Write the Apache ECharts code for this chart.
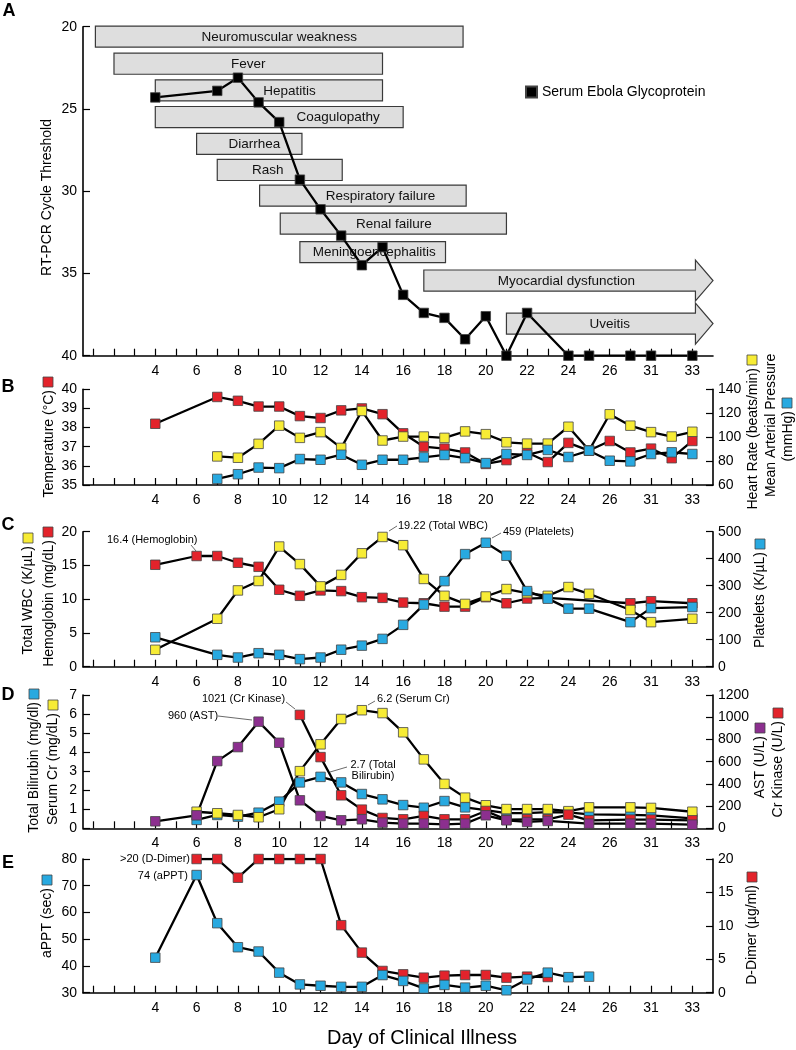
<!DOCTYPE html>
<html><head><meta charset="utf-8">
<script src="https://cdn.jsdelivr.net/npm/echarts@6/dist/echarts.min.js"></script>
<style>html,body{margin:0;padding:0;background:#fff}#c{width:796px;height:1050px}</style>
</head><body><div id="c"></div>
<script>
// ---------- shared x axis (broken day axis) ----------
const axisDays = [1,2,3,4,5,6,7,8,9,10,11,12,13,14,15,16,17,18,19,20,21,22,23,24,25,26,29,31,32,33];
const tickLabelDays = [4,6,8,10,12,14,16,18,20,22,24,26,31,33];

// ---------- Panel A ----------
const ctDays   = [4,7,8,9,10,11,12,13,14,15,16,17,18,19,20,21,22,24,25,29,31,33];
const ctValues = [24.3,23.9,23.1,24.6,25.8,29.3,31.1,32.7,34.5,33.4,36.3,37.4,37.7,39.0,37.6,40,37.4,40,40,40,40,40];
const symptomNames = ['Neuromuscular weakness','Fever','Hepatitis','Coagulopathy','Diarrhea','Rash','Respiratory failure','Renal failure','Meningoencephalitis','Myocardial dysfunction','Uveitis'];
const symptomStart = [1.1, 2, 4, 4, 6, 7, 9.05, 10.05, 11, 17, 21];
const symptomEnd   = [18.9, 15, 15, 16, 11.1, 13.05, 19.05, 21, 18.05, 31, 31];
const symptomOngoing = [0,0,0,0,0,0,0,0,0,1,1];
const symptomRow   = [20.6, 22.25, 23.87, 25.49, 27.12, 28.71, 30.27, 31.97, 33.7, 35.43, 38.05];
const symptomLabelAt = [10, 8.5, 10.5, 12.85, 8.8, 9.45, 14.9, 15.55, 14.6, 23.9, 26];

// ---------- Panel B ----------
const tempDays = [4,7,8,9,10,11,12,13,14,15,16,17,18,19,20,21,22,23,24,25,26,29,31,32,33];
const temperature = [38.2,39.6,39.4,39.1,39.1,38.6,38.5,38.9,39.0,38.7,37.7,37.0,36.9,36.7,36.1,36.3,36.7,36.2,37.2,36.8,37.3,36.7,36.9,36.4,37.3];
const vitalDays = [7,8,9,10,11,12,13,14,15,16,17,18,19,20,21,22,23,24,25,26,29,31,32,33];
const heartRate = [83.9,82.8,94.4,109.6,99.4,104.2,91.0,121.9,97.2,100.5,100.5,99.4,104.8,102.5,95.7,94.6,94.6,108.7,89,119.1,109.6,104.2,100.5,104.5];
const meanArterial = [65.1,69.0,74.6,74.1,81.7,81.1,85.3,76.9,81.1,81.1,83.1,85.1,82.5,78.3,85.9,85.1,89.3,83.4,88.7,80.3,79.7,85.9,87.3,85.9];

// ---------- Panel C ----------
const hgbDays = [4,6,7,8,9,10,11,12,13,14,15,16,17,18,19,20,21,22,23,29,31,33];
const hemoglobin = [15.1,16.4,16.4,15.4,14.8,11.4,10.5,11.3,11.2,10.3,10.2,9.5,9.4,8.9,8.9,10.3,9.4,10.1,10.2,9.4,9.7,9.4];
const cbcDays = [4,7,8,9,10,11,12,13,14,15,16,17,18,19,20,21,22,23,24,25,29,31,33];
const totalWBC = [2.5,7.1,11.3,12.7,17.8,15.2,11.9,13.6,16.8,19.22,18.0,13.0,10.5,9.3,10.4,11.5,10.9,10.5,11.8,10.8,8.4,6.6,7.1];
const platelets = [109,44,34,50,44,28,34,63,78,103,155,230,317,417,459,411,280,252,215,215,165,217,221];

// ---------- Panel D ----------
const astDays = [4,6,7,8,9,10,11,12,13,14,15,16,17,18,19,20,21,22,23,25,29,31,33];
const ast = [63,117,605,731,960,770,252,111,72,81,51,42,42,36,42,117,72,57,66,42,42,42,33];
const ckDays = [11,12,13,14,15,16,17,18,19,20,21,22,23,24,25,29,31,33];
const crKinase = [1021,641,297,168,93,81,111,81,81,156,78,81,81,123,72,78,78,72];
const chemDays = [6,7,8,9,10,11,12,13,14,15,16,17,18,19,20,21,22,23,24,25,29,31,33];
const serumCr = [0.87,0.79,0.70,0.58,1.0,3.0,4.41,5.74,6.2,6.05,5.04,3.62,2.33,1.61,1.21,1.01,1.01,1.01,0.9,1.1,1.1,1.07,0.87];
const bilirubin = [0.44,0.70,0.61,0.82,1.40,2.41,2.7,2.41,1.8,1.52,1.22,1.08,1.43,1.10,0.96,0.8,0.8,0.85,0.84,0.73,0.70,0.68,0.52];

// ---------- Panel E ----------
const dDimerDays = [6,7,8,9,10,11,12,13,14,15,16,17,18,19,20,21,22,23];
const dDimer = [20,20,17.2,20,20,20,20,10.1,6.0,3.25,2.75,2.25,2.55,2.65,2.65,2.25,2.4,2.35];
const apttDays = [4,6,7,8,9,10,11,12,13,14,15,16,17,18,19,20,21,22,23,24,25];
const aptt = [43.1,74,56,47,45.4,37.5,33.1,32.6,32.2,32.2,36.6,34.4,31.6,32.9,31.9,32.6,30.9,35.0,37.5,35.8,36.0];

// ---------- styling ----------
const FONT = "'Liberation Sans', Arial, Helvetica, sans-serif";
const RED = '#e3232b', YELLOW = '#f7ec35', BLUE = '#28a9e0', PURPLE = '#8c2f8f', BLACK = '#000';
const BAR_H = 1.28;

const pos = d => axisDays.indexOf(d) + 1;
const posLabel = {};
tickLabelDays.forEach(d => { posLabel[pos(d)] = String(d); });
const pts = (days, vals) => days.map((d, i) => [pos(d), vals[i]]);

const grids = [
  {left: 83, width: 630, top: 26.7, height: 329},
  {left: 83, width: 630, top: 389.3, height: 95.7},
  {left: 83, width: 630, top: 531.7, height: 135},
  {left: 83, width: 630, top: 695, height: 133.3},
  {left: 83, width: 630, top: 859, height: 133.7}
];

const xAxes = grids.map((g, gi) => ({
  type: 'value', gridIndex: gi, min: 0.5, max: 31,
  axisLine: {show: true, onZero: false, lineStyle: {color: '#000', width: 1.6}},
  axisTick: {show: true, inside: true, length: 7, customValues: axisDays.map((d, i) => i + 1), lineStyle: {color: '#000', width: 1.2}},
  axisLabel: {show: true, customValues: tickLabelDays.map(pos), formatter: v => posLabel[Math.round(v)] || '', fontSize: 14, color: '#000', margin: 8, fontFamily: FONT},
  splitLine: {show: false}
}));

function yAx(gi, position, min, max, interval, inverse) {
  return {
    type: 'value', gridIndex: gi, position, min, max, interval, inverse: !!inverse,
    axisLine: {show: true, onZero: false, lineStyle: {color: '#000', width: 1.6}},
    axisTick: {show: true, inside: true, length: 7, lineStyle: {color: '#000', width: 1.2}},
    axisLabel: {fontSize: 14, color: '#000', margin: position === 'left' ? 6 : 5, fontFamily: FONT, formatter: v => String(v)},
    splitLine: {show: false}
  };
}
const yAxes = [
  yAx(0, 'left', 20, 40, 5, true),
  yAx(1, 'left', 35, 40, 1), yAx(1, 'right', 60, 140, 20),
  yAx(2, 'left', 0, 20, 5), yAx(2, 'right', 0, 500, 100),
  yAx(3, 'left', 0, 7, 1), yAx(3, 'right', 0, 1200, 200),
  yAx(4, 'left', 30, 80, 10), yAx(4, 'right', 0, 20, 5)
];

const series = [];
function addSeries(name, xi, yi, data, color, z) {
  series.push({type: 'line', xAxisIndex: xi, yAxisIndex: yi, data, symbol: 'none', z: 2,
    lineStyle: {color: '#000', width: 2.3}, silent: true, animation: false});
  series.push({type: 'scatter', name, xAxisIndex: xi, yAxisIndex: yi, data, symbol: 'rect', symbolSize: 9.5, z: 3 + z * 0.01,
    itemStyle: {color, borderColor: '#444', borderWidth: 0.8, opacity: 1}, animation: false});
}

// Panel A: symptom bars
series.push({
  type: 'custom', xAxisIndex: 0, yAxisIndex: 0, z: 1, animation: false,
  data: symptomNames.map((n, i) => [symptomStart[i], symptomEnd[i], symptomRow[i], symptomLabelAt[i], symptomOngoing[i]]),
  renderItem: (params, api) => {
    const s = api.value(0), e = api.value(1), row = api.value(2), lab = api.value(3), ongoing = api.value(4);
    const pTop = api.coord([s, row - BAR_H / 2]);
    const pBot = api.coord([s, row + BAR_H / 2]);
    const pEnd = api.coord([e, row]);
    const yT = Math.min(pTop[1], pBot[1]), yB = Math.max(pTop[1], pBot[1]);
    const yM = (yT + yB) / 2;
    let shape;
    if (ongoing) {
      const xh = api.coord([30.15, row])[0];
      const hh = (yB - yT) * 0.97;
      shape = {type: 'polygon', shape: {points: [[pTop[0], yT], [xh, yT], [xh, yM - hh], [pEnd[0], yM], [xh, yM + hh], [xh, yB], [pTop[0], yB]]},
        style: {fill: '#dedede', stroke: '#3a3a3a', lineWidth: 1.2}};
    } else {
      shape = {type: 'rect', shape: {x: pTop[0], y: yT, width: pEnd[0] - pTop[0], height: yB - yT},
        style: {fill: '#dedede', stroke: '#3a3a3a', lineWidth: 1.2}};
    }
    const lx = api.coord([lab, row])[0];
    return {type: 'group', children: [shape,
      {type: 'text', x: lx, y: yM + 0.5, style: {text: symptomNames[params.dataIndex], align: 'center', verticalAlign: 'middle', textAlign: 'center', textVerticalAlign: 'middle', fontSize: 13.5, fontFamily: FONT, fill: '#111'}}]};
  }
});
addSeries('Serum Ebola Glycoprotein', 0, 0, pts(ctDays, ctValues), BLACK, 0);
// Panel B
addSeries('Temperature', 1, 1, pts(tempDays, temperature), RED, 0);
addSeries('Heart Rate', 1, 2, pts(vitalDays, heartRate), YELLOW, 1);
addSeries('Mean Arterial Pressure', 1, 2, pts(vitalDays, meanArterial), BLUE, 2);
// Panel C
addSeries('Hemoglobin', 2, 3, pts(hgbDays, hemoglobin), RED, 0);
addSeries('Total WBC', 2, 3, pts(cbcDays, totalWBC), YELLOW, 1);
addSeries('Platelets', 2, 4, pts(cbcDays, platelets), BLUE, 2);
// Panel D
addSeries('Total Bilirubin', 3, 5, pts(chemDays, bilirubin), BLUE, 0);
addSeries('Serum Cr', 3, 5, pts(chemDays, serumCr), YELLOW, 1);
addSeries('Cr Kinase', 3, 6, pts(ckDays, crKinase), RED, 2);
addSeries('AST', 3, 6, pts(astDays, ast), PURPLE, 3);
// Panel E
addSeries('D-Dimer', 4, 8, pts(dDimerDays, dDimer), RED, 0);
addSeries('aPPT', 4, 7, pts(apttDays, aptt), BLUE, 1);

// ---------- text, titles, annotations ----------
function txt(text, x, y, o) {
  o = o || {};
  const al = o.align || 'center';
  return {type: 'text', x, y, rotation: o.rot || 0, z: 20,
    style: {text, fontSize: o.size || 14, fontFamily: FONT, fontWeight: o.bold ? 'bold' : 'normal', fill: '#000',
      align: al, textAlign: al, verticalAlign: 'middle', textVerticalAlign: 'middle'}};
}
function sq(color, cx, cy) {
  return {type: 'rect', z: 20, shape: {x: cx - 5, y: cy - 5, width: 10, height: 10}, style: {fill: color, stroke: '#444', lineWidth: 0.8}};
}
function lead(x1, y1, x2, y2) {
  return {type: 'line', z: 20, shape: {x1, y1, x2, y2}, style: {stroke: '#444', lineWidth: 0.8}};
}
const R = Math.PI / 2;
const graphic = [
  txt('A', 9, 11, {bold: true, size: 18}),
  txt('B', 8, 387, {bold: true, size: 18}),
  txt('C', 8, 525, {bold: true, size: 18}),
  txt('D', 8, 695, {bold: true, size: 18}),
  txt('E', 8, 863, {bold: true, size: 18}),
  txt('RT-PCR Cycle Threshold', 47, 197.5, {rot: R}),
  // B
  sq(RED, 48, 382), txt('Temperature (°C)', 49, 390, {rot: R, align: 'right'}),
  sq(YELLOW, 752, 360), txt('Heart Rate (beats/min)', 753, 368, {rot: R, align: 'right'}),
  txt('Mean Arterial Pressure', 771, 497, {rot: R, align: 'left'}),
  sq(BLUE, 787, 403), txt('(mmHg)', 788, 411, {rot: R, align: 'right'}),
  // C
  sq(YELLOW, 28, 538), txt('Total WBC (K/µL)', 28, 546, {rot: R, align: 'right'}),
  sq(RED, 48, 532), txt('Hemoglobin (mg/dL)', 49, 540, {rot: R, align: 'right'}),
  sq(BLUE, 760, 544), txt('Platelets (K/µL)', 760, 552, {rot: R, align: 'right'}),
  // D
  sq(BLUE, 34, 694), txt('Total Bilirubin (mg/dl)', 34, 702, {rot: R, align: 'right'}),
  sq(YELLOW, 53, 705), txt('Serum Cr (mg/dL)', 53, 713, {rot: R, align: 'right'}),
  sq(PURPLE, 760, 728), txt('AST (U/L)', 760, 736, {rot: R, align: 'right'}),
  sq(RED, 778, 713), txt('Cr Kinase (U/L)', 778, 721, {rot: R, align: 'right'}),
  // E
  sq(BLUE, 47, 880), txt('aPPT (sec)', 47, 888, {rot: R, align: 'right'}),
  sq(RED, 752, 877), txt('D-Dimer (µg/ml)', 752, 885, {rot: R, align: 'right'}),
  txt('Day of Clinical Illness', 422, 1038, {size: 20}),
  // annotations
  txt('16.4 (Hemoglobin)', 107, 539.5, {size: 11, align: 'left'}), lead(191, 545, 196, 551),
  txt('19.22 (Total WBC)', 398, 526, {size: 11, align: 'left'}), lead(389, 531, 397, 526),
  txt('459 (Platelets)', 503, 531.5, {size: 11, align: 'left'}), lead(492, 538, 501, 533),
  txt('1021 (Cr Kinase)', 202, 699, {size: 11, align: 'left'}), lead(286, 702, 295, 709),
  txt('960 (AST)', 168, 716, {size: 11, align: 'left'}), lead(218, 716, 252, 720),
  txt('6.2 (Serum Cr)', 377, 699, {size: 11, align: 'left'}), lead(368, 705, 375, 701),
  txt('2.7 (Total', 373, 764.5, {size: 11}), txt('Bilirubin)', 373, 776, {size: 11}), lead(330, 772, 347, 767),
  txt('>20 (D-Dimer)', 190, 859, {size: 11, align: 'right'}),
  txt('74 (aPPT)', 188, 876, {size: 11, align: 'right'})
];

const chart = echarts.init(document.getElementById('c'), null, {renderer: 'canvas'});
chart.setOption({
  backgroundColor: '#fff',
  animation: false,
  textStyle: {fontFamily: FONT},
  grid: grids,
  xAxis: xAxes,
  yAxis: yAxes,
  legend: {data: ['Serum Ebola Glycoprotein'], left: 520, top: 80, icon: 'rect', itemWidth: 11, itemHeight: 11, itemGap: 5,
    selectedMode: false, textStyle: {fontSize: 14, color: '#000', fontFamily: FONT}},
  series,
  graphic
});
</script>
</body></html>
